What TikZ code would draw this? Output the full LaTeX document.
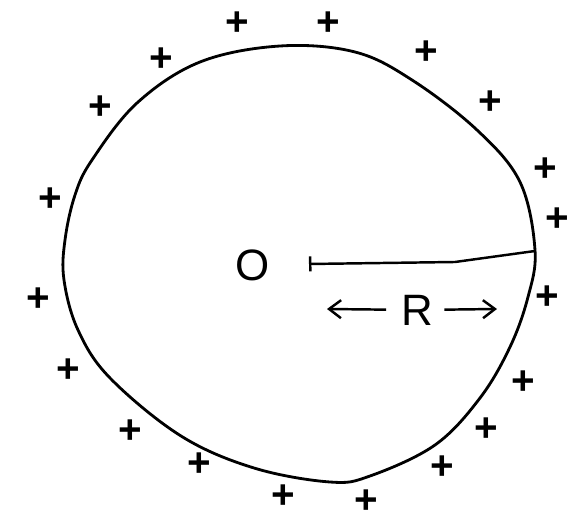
\documentclass[tikz,border=0pt]{standalone}
\usepackage{fontspec}
\setmainfont{Liberation Sans}
\usetikzlibrary{arrows.meta}

\begin{document}
\begin{tikzpicture}[x=0.02cm,y=-0.02cm,
  outline/.style={line width=1.6pt,line join=round},
  chg/.style={font=\fontsize{23}{23}\selectfont\bfseries,inner sep=0pt},
  lbl/.style={font=\fontsize{25}{25}\selectfont},
  rad/.style={line width=1.4pt,line join=round},
  >={Straight Barb[length=2.4mm,width=3.6mm]}]
  \useasboundingbox (0,0) rectangle (569,523);
  % charged surface
  \draw[outline] plot[smooth cycle,tension=0.6] coordinates {
    (280,46) (355,52) (412,80) (477,130) (520,182) (535,250) (528,297)
    (510,347) (480,398) (435,445) (370,476) (330,482) (254,468) (181,436)
    (110,378) (78,330) (64,280) (65,240) (75,195) (92,160) (137,103) (200,62)};
  \foreach \px/\py in {237/24,328/24,161/60,426/53,100/108,490/103,545/170,
      50/200,557/220,38/300,547/298,68/371,523/383,130/432,486/430,
      199/465,442/468,283/497,366/502}
    \node[chg] at (\px,\py) {+};
  % centre and radius
  \node[lbl] (o) at (253,265) {O};
  \coordinate (c) at (309,264);
  \coordinate (k) at (455,262);
  \coordinate (p) at (535,251);
  \draw[rad,{Bar[width=3mm]}-] (c) -- (k) -- (p);
  \node[lbl] (r) at (417,310) {R};
  \coordinate (la) at (327,309);
  \coordinate (ra) at (497,309);
  \draw[rad,->,shorten <=5pt] (r) -- (la);
  \draw[rad,->,shorten <=3pt] (r) -- (ra);
\end{tikzpicture}
\end{document}
